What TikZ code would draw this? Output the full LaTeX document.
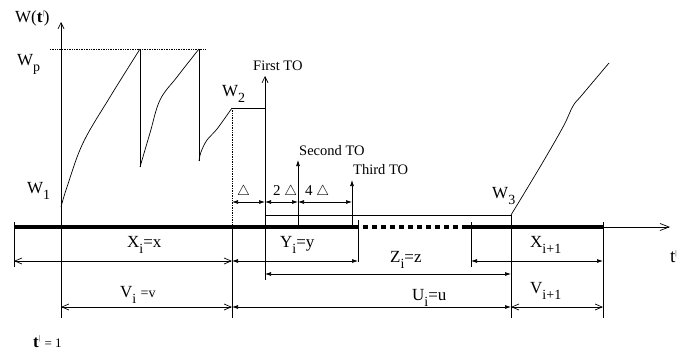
\documentclass[tikz,border=0pt]{standalone}
\usepackage{fontspec}
\setmainfont{Liberation Serif}
\usetikzlibrary{arrows.meta}
\newcommand{\pr}{\raisebox{6.5pt}{\fontsize{7}{7}\selectfont|}}
\newcommand{\mysub}[1]{\raisebox{-6pt}{\fontsize{14}{16}\selectfont #1}}
\begin{document}
\begin{tikzpicture}[x=1pt,y=-1pt,
  ln/.style={line width=0.7pt},
  thick bar/.style={line width=4pt},
  ff/.style={ln,{Latex[length=6pt,width=4pt]}-{Latex[length=6pt,width=4pt]}},
  oo/.style={ln,{Straight Barb[length=7pt,width=6pt]}-{Straight Barb[length=7pt,width=6pt]}},
  uf/.style={ln,-{Latex[length=6pt,width=4pt]}},
  uo/.style={ln,-{Straight Barb[length=6pt,width=6pt]}},
  big/.style={anchor=base west,inner sep=0,font=\fontsize{17}{19}\selectfont},
  mid/.style={anchor=base west,inner sep=0,font=\fontsize{14.5}{16}\selectfont}]
\useasboundingbox (0,0) rectangle (696,356);
% coordinates
\coordinate (L) at (14,227);
\coordinate (Ybar) at (358,227);
\coordinate (Ds) at (363,227);
\coordinate (De) at (467,227);
\coordinate (R) at (603,227);
\coordinate (Tend) at (670,227);
% timeline
\draw[thick bar] (L) -- (Ybar);
\draw[thick bar,dash pattern=on 5pt off 4pt] (Ds) -- (De);
\draw[thick bar] (De) -- (R);
\draw[ln,-{Straight Barb[length=9pt,width=7pt]}] (R) -- (Tend);
% vertical axis
\coordinate (A0) at (61,318);
\coordinate (A1) at (61,22);
\draw[uo] (A0) -- (A1);
% ticks
\coordinate (k1a) at (14,222); \coordinate (k1b) at (14,267);
\draw[ln] (k1a) -- (k1b);
\coordinate (k2a) at (232,108); \coordinate (k2m) at (232,227); \coordinate (k2b) at (232,318);
\draw[ln,densely dotted] (k2a) -- (k2m);
\draw[ln] (k2m) -- (k2b);
\coordinate (F0) at (265,280); \coordinate (F1) at (265,76);
\draw[uo] (F0) -- (F1);
\coordinate (S0) at (298,227); \coordinate (S1) at (298,160);
\draw[uf] (S0) -- (S1);
\coordinate (T0) at (352,227); \coordinate (T1) at (352,180);
\draw[uf] (T0) -- (T1);
\coordinate (k3a) at (358,220); \coordinate (k3b) at (358,262);
\draw[ln] (k3a) -- (k3b);
\coordinate (k4a) at (471,222); \coordinate (k4b) at (471,267);
\draw[ln] (k4a) -- (k4b);
\coordinate (W3) at (511,215); \coordinate (k5b) at (511,318);
\draw[ln] (W3) -- (k5b);
\coordinate (k6a) at (603,222); \coordinate (k6b) at (603,318);
\draw[ln] (k6a) -- (k6b);
% W(t) curve
\draw[ln] plot[smooth,tension=0.6] coordinates {(61,207) (67,187) (83,143) (110,97) (140,49)};
\draw[ln] (140,49) -- (140,167);
\draw[ln] plot[smooth,tension=0.6] coordinates {(140,167) (150,133) (160,100) (177,77) (199,49)};
\draw[ln] (199,49) -- (199,161);
\draw[ln] plot[smooth,tension=0.6] coordinates {(199,161) (201,152) (207,140) (217,129) (232,108)};
\coordinate (W2a) at (232,108); \coordinate (W2b) at (265,108);
\draw[ln] (W2a) -- (W2b);
\coordinate (Wpa) at (50,49); \coordinate (Wpb) at (205,49);
\draw[ln,densely dotted] (Wpa) -- (Wpb);
\coordinate (H0) at (265,215);
\draw[ln] (H0) -- (W3);
\draw[ln] plot[smooth,tension=0.6] coordinates {(511,215) (540,167) (563,127) (573,106) (582,95) (609,63)};
% delta arrows
\coordinate (d0) at (232,202); \coordinate (d1) at (265,202);
\coordinate (d2) at (298,202); \coordinate (d3) at (352,202);
\draw[ff] (d0) -- (d1);
\draw[ff] (d1) -- (d2);
\draw[ff] (d2) -- (d3);
% bottom arrows
\coordinate (x0) at (14,261); \coordinate (x1) at (232,261);
\draw[oo] (x0) -- (x1);
\coordinate (y1) at (358,261);
\draw[ff] (x1) -- (y1);
\coordinate (z0) at (265,274); \coordinate (z1) at (511,274);
\draw[ff] (z0) -- (z1);
\coordinate (xi0) at (471,261); \coordinate (xi1) at (603,261);
\draw[ff] (xi0) -- (xi1);
\coordinate (v0) at (61,307); \coordinate (v1) at (232,307);
\draw[oo] (v0) -- (v1);
\coordinate (u1) at (511,307);
\draw[ff] (v1) -- (u1);
\coordinate (vi1) at (603,307);
\draw[oo] (u1) -- (vi1);
% labels
\node[big] (lW) at (15,22) {W(\textbf{t}\pr)};
\node[big] (lWp) at (17,65) {W\mysub{p}};
\node[big] (lW1) at (27,193) {W\mysub{1}};
\node[big] (lW2) at (222,96) {W\mysub{2}};
\node[big] (lW3) at (492,198) {W\mysub{3}};
\node[mid] (lF) at (253,70) {First TO};
\node[mid] (lS) at (299,155) {Second TO};
\node[mid] (lT) at (353,174) {Third TO};
\node[mid,font=\fontsize{15}{17}\selectfont] (ld1) at (237,195) {$\triangle$};
\node[mid,font=\fontsize{15}{17}\selectfont] (ld2) at (273,195) {2 $\triangle$};
\node[mid,font=\fontsize{15}{17}\selectfont] (ld3) at (305,195) {4 $\triangle$};
\node[big] (lX) at (127,247) {X\mysub{i}=x};
\node[big] (lY) at (280,247) {Y\mysub{i}=y};
\node[big] (lZ) at (390,262) {Z\mysub{i}=z};
\node[big] (lXi) at (530,247) {X\mysub{i+1}};
\node[big] (lV) at (120,297) {V\mysub{i} {\fontsize{14}{16}\selectfont =v}};
\node[big] (lU) at (412,300) {U\mysub{i}=u};
\node[big] (lVi) at (530,293) {V\mysub{i+1}};
\node[big] (lt1) at (33,347) {\textbf{t}\pr{} {\fontsize{13}{15}\selectfont = 1}};
\node[big,font=\fontsize{19}{21}\selectfont] (lt) at (670,262) {t\pr};
\end{tikzpicture}
\end{document}
